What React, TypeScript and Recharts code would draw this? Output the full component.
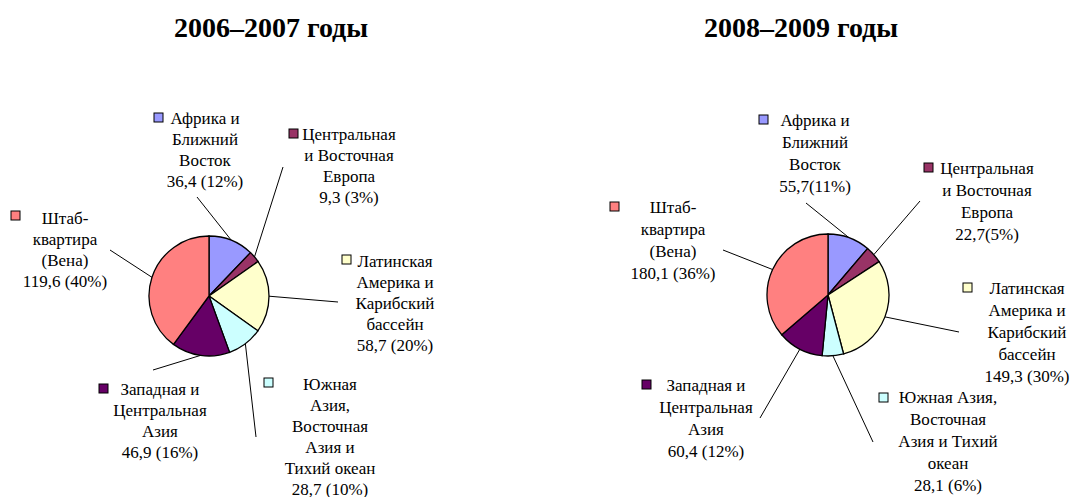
import { PieChart, Pie, Cell } from 'recharts';

const regions = [
  'Африка и Ближний Восток',
  'Центральная и Восточная Европа',
  'Латинская Америка и Карибский бассейн',
  'Южная Азия, Восточная Азия и Тихий океан',
  'Западная и Центральная Азия',
  'Штаб-квартира (Вена)',
];
const colors = ['#9999FF', '#993366', '#FFFFCC', '#CCFFFF', '#660066', '#FF8080'];

const values2007 = [36.4, 9.3, 58.7, 28.7, 46.9, 119.6];
const values2009 = [55.7, 22.7, 149.3, 28.1, 60.4, 180.1];

// how each category name is broken over lines in the two pies
const lines2007 = [
  ['Африка и', 'Ближний', 'Восток'],
  ['Центральная', 'и Восточная', 'Европа'],
  ['Латинская', 'Америка и', 'Карибский', 'бассейн'],
  ['Южная', 'Азия,', 'Восточная', 'Азия и', 'Тихий океан'],
  ['Западная и', 'Центральная', 'Азия'],
  ['Штаб-', 'квартира', '(Вена)'],
];
const lines2009 = [
  ['Африка и', 'Ближний', 'Восток'],
  ['Центральная', 'и Восточная', 'Европа'],
  ['Латинская', 'Америка и', 'Карибский', 'бассейн'],
  ['Южная Азия,', 'Восточная', 'Азия и Тихий', 'океан'],
  ['Западная и', 'Центральная', 'Азия'],
  ['Штаб-', 'квартира', '(Вена)'],
];
const compact2009 = [true, true, false, false, false, false];

// label layout, offsets from the pie centre:
// tx = text centre, ty = first baseline, sx/sy = key square, lx/ly = leader end
type Layout = { tx: number; ty: number; sx: number; sy: number; lx: number; ly: number; lh: number };
const layout2007: Layout[] = [
  { tx: -4, ty: -172, sx: -55, sy: -183, lx: -12, ly: -99, lh: 21 },
  { tx: 140, ty: -156, sx: 80, sy: -167, lx: 74, ly: -129, lh: 21 },
  { tx: 186, ty: -29, sx: 133, sy: -41, lx: 129, ly: 6, lh: 21 },
  { tx: 121, ty: 94, sx: 55, sy: 82, lx: 47, ly: 141, lh: 21 },
  { tx: -49, ty: 99, sx: -110, sy: 88, lx: -56, ly: 74, lh: 21 },
  { tx: -144, ty: -72, sx: -198, sy: -85, lx: -99, ly: -46, lh: 21 },
];
const layout2009: Layout[] = [
  { tx: -13, ty: -169, sx: -69, sy: -180, lx: -22, ly: -92, lh: 22 },
  { tx: 159, ty: -121, sx: 96, sy: -132, lx: 92, ly: -94, lh: 22 },
  { tx: 199, ty: -1, sx: 135, sy: -12, lx: 131, ly: 37, lh: 22 },
  { tx: 120, ty: 108, sx: 51, sy: 98, lx: 45, ly: 147, lh: 22 },
  { tx: -122, ty: 96, sx: -186, sy: 85, lx: -68, ly: 123, lh: 22 },
  { tx: -155, ty: -82, sx: -218, sy: -93, lx: -105, ly: -45, lh: 22 },
];

const FONT = '"Liberation Serif", "Times New Roman", serif';
const RAD = Math.PI / 180;

function fmtValue(v: number, total: number, compact: boolean) {
  const pct = Math.round((v / total) * 100);
  return `${v.toFixed(1).replace('.', ',')}${compact ? '' : ' '}(${pct}%)`;
}

function makeLabel(lines: string[][], layout: Layout[], values: number[], compact: boolean[]) {
  const total = values.reduce((a, b) => a + b, 0);
  return (props: any) => {
    const { cx, cy, midAngle, outerRadius, index } = props;
    const l = layout[index];
    const x0 = cx + Math.cos(-midAngle * RAD) * outerRadius;
    const y0 = cy + Math.sin(-midAngle * RAD) * outerRadius;
    const text = [...lines[index], fmtValue(values[index], total, compact[index])];
    return (
      <g key={`lbl-${index}`}>
        <line x1={x0} y1={y0} x2={cx + l.lx} y2={cy + l.ly} stroke="#000" strokeWidth={1} />
        <rect x={cx + l.sx} y={cy + l.sy} width={9} height={9} fill={colors[index]} stroke="#000" strokeWidth={1} />
        <text textAnchor="middle" style={{ fontFamily: FONT, fontSize: 17 }} fill="#000">
          {text.map((t, i) => (
            <tspan key={i} x={cx + l.tx} y={cy + l.ty + i * l.lh}>
              {t}
            </tspan>
          ))}
        </text>
      </g>
    );
  };
}

const data2007 = regions.map((name, i) => ({ name, value: values2007[i] }));
const data2009 = regions.map((name, i) => ({ name, value: values2009[i] }));

export default function App() {
  return (
    <div style={{ position: 'absolute', left: 0, top: 0, background: '#fff' }}>
      <PieChart width={1072} height={497} margin={{ top: 0, right: 0, bottom: 0, left: 0 }}>
        <text x={271} y={37} textAnchor="middle" style={{ fontFamily: FONT, fontSize: 28, fontWeight: 'bold' }} fill="#000">
          2006–2007 годы
        </text>
        <text x={801} y={37} textAnchor="middle" style={{ fontFamily: FONT, fontSize: 28, fontWeight: 'bold' }} fill="#000">
          2008–2009 годы
        </text>
        <Pie
          data={data2007}
          dataKey="value"
          cx={209}
          cy={296}
          outerRadius={60}
          startAngle={90}
          endAngle={-270}
          stroke="#000"
          strokeWidth={1.3}
          labelLine={false}
          label={makeLabel(lines2007, layout2007, values2007, [false, false, false, false, false, false])}
          isAnimationActive={false}
        >
          {data2007.map((_, i) => (
            <Cell key={i} fill={colors[i]} />
          ))}
        </Pie>
        <Pie
          data={data2009}
          dataKey="value"
          cx={828}
          cy={295}
          outerRadius={61}
          startAngle={90}
          endAngle={-270}
          stroke="#000"
          strokeWidth={1.3}
          labelLine={false}
          label={makeLabel(lines2009, layout2009, values2009, compact2009)}
          isAnimationActive={false}
        >
          {data2009.map((_, i) => (
            <Cell key={i} fill={colors[i]} />
          ))}
        </Pie>
      </PieChart>
    </div>
  );
}
